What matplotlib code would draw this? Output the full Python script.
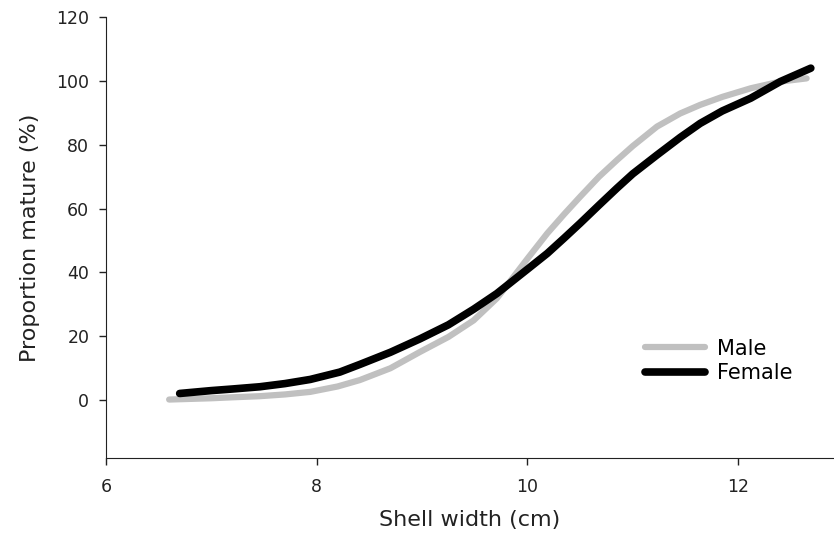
import matplotlib
matplotlib.use('Agg')
import matplotlib.pyplot as plt

# values
male_x = [6.6, 7.0, 7.2, 7.46, 7.7, 7.94, 8.2, 8.41, 8.7, 8.98, 9.25, 9.49, 9.71, 9.87,
          10.0, 10.19, 10.35, 10.5, 10.68, 10.85, 11.0, 11.23, 11.45, 11.64, 11.85,
          12.12, 12.4, 12.65]
male_y = [0.2, 0.6, 0.9, 1.25, 1.8, 2.6, 4.3, 6.3, 10, 15.1, 19.8, 25, 31.9, 38.7,
          44.3, 52.3, 58.3, 63.7, 70, 75.2, 79.6, 85.7, 89.8, 92.5, 95.0,
          97.7, 99.8, 100.8]

female_x = [6.7, 7.0, 7.2, 7.46, 7.7, 7.94, 8.22, 8.41, 8.7, 8.98, 9.25, 9.49, 9.71, 9.87,
            10.0, 10.19, 10.35, 10.5, 10.68, 10.85, 11.0, 11.23, 11.45, 11.64, 11.85,
            12.12, 12.4, 12.69]
female_y = [2.1, 3.0, 3.5, 4.2, 5.2, 6.5, 8.8, 11.2, 15, 19.2, 23.6, 28.5, 33.4, 37.6,
            41.0, 46, 50.8, 55.4, 61.1, 66.4, 70.9, 76.8, 82.3, 86.7, 90.6,
            94.6, 99.8, 104]

x_ticks = [6, 8, 10, 12]
y_ticks = [0, 20, 40, 60, 80, 100, 120]

plt.rcParams['font.family'] = 'DejaVu Sans'

fig = plt.figure(figsize=(8.34, 5.34), dpi=100)
ax = fig.add_axes([0.127, 0.143, 0.873, 0.825])

ax.plot(male_x, male_y, color='#c0c0c0', lw=4.5, solid_capstyle='round',
        solid_joinstyle='round', label='Male')
ax.plot(female_x, female_y, color='black', lw=5.5, solid_capstyle='round',
        solid_joinstyle='round', label='Female')

ax.set_xlim(6, 12.91)
ax.set_ylim(-18, 120)
ax.set_xticks(x_ticks)
ax.set_yticks(y_ticks)
ax.tick_params(direction='out', length=5, width=1, labelsize=12.5, pad=7, colors='#222222')
ax.tick_params(axis='x', pad=10)
for s in ['top', 'right']:
    ax.spines[s].set_visible(False)
for s in ['left', 'bottom']:
    ax.spines[s].set_color('#222222')

ax.set_xlabel('Shell width (cm)', fontsize=16, labelpad=10, color='#222222')
ax.set_ylabel('Proportion mature (%)', fontsize=16, labelpad=12, color='#222222')

ax.legend(loc='upper left', bbox_to_anchor=(0.74, 0.27), frameon=False, fontsize=15,
          handlelength=2.9, handletextpad=0.55, labelspacing=0.22, borderpad=0,
          borderaxespad=0)

plt.savefig('out.png', dpi=100)
